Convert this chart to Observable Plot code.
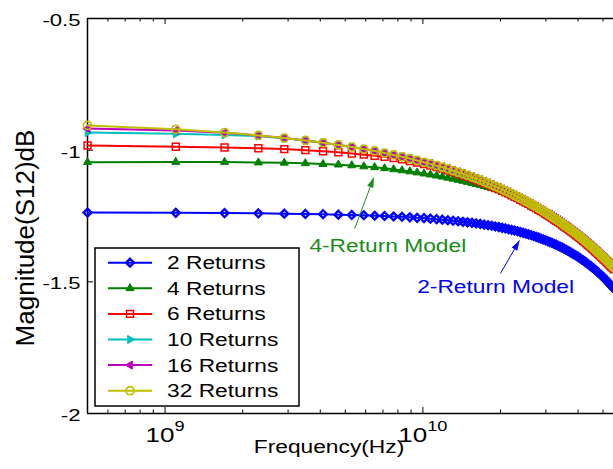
<!DOCTYPE html>
<html><head><meta charset="utf-8">
<script src="https://cdn.jsdelivr.net/npm/d3@7"></script>
<script src="https://cdn.jsdelivr.net/npm/@observablehq/plot@0.6"></script>
<style>
html,body{margin:0;padding:0;background:#fff;overflow:hidden;}
#wrap{position:relative;width:613px;height:469px;overflow:hidden;background:#fff;}
</style></head><body><div id="wrap"></div>
<script>
// ---------------- data ----------------
const seriesNames = ["2 Returns","4 Returns","6 Returns","10 Returns","16 Returns","32 Returns"];
const freqGHz = [
0.5,1.1,1.7,2.3,2.9,3.5,4.1,4.7,5.3,5.9,
6.5,7.1,7.7,8.3,8.9,9.5,10.1,10.7,11.3,11.9,
12.5,13.1,13.7,14.3,14.9,15.5,16.1,16.7,17.3,17.9,
18.5,19.1,19.7,20.3,20.9,21.5,22.1,22.7,23.3,23.9,
24.5,25.1,25.7,26.3,26.9,27.5,28.1,28.7,29.3,29.9,
30.5,31.1,31.7,32.3,32.9,33.5,34.1,34.7,35.3,35.9,
36.5,37.1,37.7,38.3,38.9,39.5,40.1,40.7,41.3,41.9,
42.5,43.1,43.7,44.3,44.9,45.5,46.1,46.7,47.3,47.9,
48.5,49.1,49.7,50.3,50.9,51.5,52.1,52.7,53.3,53.9,
54.5,55.1];
const ret2 = [
-1.237,-1.238,-1.239,-1.240,-1.241,-1.242,-1.243,-1.245,-1.246,-1.247,
-1.249,-1.250,-1.252,-1.253,-1.255,-1.257,-1.258,-1.260,-1.262,-1.264,
-1.266,-1.268,-1.270,-1.272,-1.274,-1.276,-1.278,-1.280,-1.283,-1.285,
-1.287,-1.290,-1.292,-1.295,-1.297,-1.300,-1.303,-1.305,-1.308,-1.311,
-1.314,-1.317,-1.320,-1.323,-1.326,-1.329,-1.332,-1.336,-1.339,-1.342,
-1.346,-1.349,-1.352,-1.356,-1.359,-1.363,-1.367,-1.370,-1.374,-1.378,
-1.382,-1.386,-1.390,-1.394,-1.398,-1.402,-1.406,-1.410,-1.415,-1.419,
-1.423,-1.428,-1.432,-1.437,-1.441,-1.446,-1.450,-1.455,-1.460,-1.465,
-1.469,-1.474,-1.479,-1.484,-1.489,-1.494,-1.500,-1.505,-1.510,-1.515,
-1.521,-1.526];
const ret4 = [
-1.046,-1.045,-1.045,-1.047,-1.048,-1.050,-1.053,-1.055,-1.058,-1.062,
-1.065,-1.069,-1.073,-1.077,-1.081,-1.085,-1.089,-1.093,-1.097,-1.101,
-1.105,-1.109,-1.113,-1.117,-1.121,-1.125,-1.129,-1.133,-1.137,-1.141,
-1.145,-1.149,-1.153,-1.157,-1.163,-1.168,-1.174,-1.180,-1.185,-1.191,
-1.196,-1.202,-1.207,-1.213,-1.218,-1.223,-1.229,-1.234,-1.239,-1.245,
-1.250,-1.255,-1.261,-1.266,-1.271,-1.276,-1.281,-1.287,-1.292,-1.297,
-1.302,-1.307,-1.312,-1.317,-1.322,-1.327,-1.332,-1.337,-1.342,-1.347,
-1.352,-1.357,-1.362,-1.367,-1.372,-1.377,-1.382,-1.387,-1.392,-1.397,
-1.402,-1.407,-1.412,-1.417,-1.421,-1.426,-1.431,-1.436,-1.441,-1.446,
-1.450,-1.455];
const ret6 = [
-0.982,-0.987,-0.990,-0.993,-0.996,-1.000,-1.004,-1.008,-1.013,-1.017,
-1.021,-1.025,-1.030,-1.035,-1.041,-1.047,-1.053,-1.058,-1.064,-1.070,
-1.076,-1.083,-1.089,-1.095,-1.101,-1.107,-1.113,-1.119,-1.125,-1.131,
-1.137,-1.143,-1.148,-1.154,-1.160,-1.165,-1.171,-1.177,-1.182,-1.188,
-1.193,-1.199,-1.204,-1.210,-1.215,-1.220,-1.226,-1.231,-1.236,-1.242,
-1.247,-1.252,-1.258,-1.263,-1.268,-1.273,-1.278,-1.284,-1.289,-1.294,
-1.299,-1.304,-1.309,-1.314,-1.319,-1.324,-1.329,-1.334,-1.339,-1.344,
-1.349,-1.354,-1.359,-1.364,-1.369,-1.374,-1.379,-1.384,-1.389,-1.394,
-1.399,-1.404,-1.409,-1.414,-1.418,-1.423,-1.428,-1.433,-1.438,-1.443,
-1.447,-1.452];
const ret10 = [
-0.933,-0.938,-0.942,-0.947,-0.955,-0.963,-0.972,-0.980,-0.988,-0.996,
-1.003,-1.011,-1.018,-1.025,-1.032,-1.039,-1.046,-1.052,-1.059,-1.065,
-1.071,-1.078,-1.084,-1.090,-1.096,-1.102,-1.108,-1.114,-1.120,-1.126,
-1.132,-1.138,-1.143,-1.149,-1.155,-1.160,-1.166,-1.172,-1.177,-1.183,
-1.188,-1.194,-1.199,-1.205,-1.210,-1.215,-1.221,-1.226,-1.231,-1.237,
-1.242,-1.247,-1.253,-1.258,-1.263,-1.268,-1.273,-1.279,-1.284,-1.289,
-1.294,-1.299,-1.304,-1.309,-1.314,-1.319,-1.324,-1.329,-1.334,-1.339,
-1.344,-1.349,-1.354,-1.359,-1.364,-1.369,-1.374,-1.379,-1.384,-1.389,
-1.394,-1.399,-1.404,-1.409,-1.413,-1.418,-1.423,-1.428,-1.433,-1.438,
-1.442,-1.447];
const ret16 = [
-0.918,-0.925,-0.934,-0.944,-0.954,-0.963,-0.972,-0.980,-0.988,-0.996,
-1.003,-1.011,-1.018,-1.025,-1.032,-1.039,-1.046,-1.050,-1.057,-1.063,
-1.069,-1.076,-1.082,-1.088,-1.094,-1.100,-1.106,-1.112,-1.118,-1.124,
-1.130,-1.136,-1.141,-1.147,-1.153,-1.158,-1.164,-1.170,-1.175,-1.181,
-1.186,-1.192,-1.197,-1.203,-1.208,-1.213,-1.219,-1.224,-1.229,-1.235,
-1.240,-1.243,-1.249,-1.254,-1.259,-1.264,-1.269,-1.275,-1.280,-1.285,
-1.290,-1.295,-1.300,-1.305,-1.310,-1.315,-1.320,-1.325,-1.330,-1.335,
-1.340,-1.345,-1.350,-1.355,-1.360,-1.365,-1.370,-1.375,-1.380,-1.385,
-1.390,-1.395,-1.400,-1.405,-1.409,-1.414,-1.419,-1.424,-1.429,-1.434,
-1.438,-1.443];
const ret32 = [
-0.906,-0.921,-0.933,-0.944,-0.954,-0.963,-0.972,-0.980,-0.988,-0.996,
-1.003,-1.011,-1.018,-1.025,-1.032,-1.039,-1.046,-1.052,-1.059,-1.065,
-1.071,-1.078,-1.084,-1.090,-1.096,-1.102,-1.108,-1.114,-1.120,-1.126,
-1.132,-1.138,-1.143,-1.149,-1.155,-1.160,-1.166,-1.172,-1.177,-1.183,
-1.188,-1.194,-1.199,-1.205,-1.210,-1.215,-1.221,-1.226,-1.231,-1.237,
-1.242,-1.247,-1.253,-1.258,-1.263,-1.268,-1.273,-1.279,-1.284,-1.289,
-1.294,-1.299,-1.304,-1.309,-1.314,-1.319,-1.324,-1.329,-1.334,-1.339,
-1.344,-1.349,-1.354,-1.359,-1.364,-1.369,-1.374,-1.379,-1.384,-1.389,
-1.394,-1.399,-1.404,-1.409,-1.413,-1.418,-1.423,-1.428,-1.433,-1.438,
-1.442,-1.447];

const xDomain = [5e8, 5.49e10];
const yDomain = [-2, -0.5];
const yTicks = [-2, -1.5, -1, -0.5];
const xMajorTicks = [1e9, 1e10];
const xMinorTicks = [6e8,7e8,8e8,9e8,2e9,3e9,4e9,5e9,6e9,7e9,8e9,9e9,2e10,3e10,4e10,5e10];
const xLabel = "Frequency(Hz)";
const yLabel = "Magnitude(S12)dB";

const annotText = ["4-Return Model", "2-Return Model"];
const annotX = [7.31e9, 1.915e10];
const annotY = [-1.366, -1.520];
const arrowX1 = [5.44e9, 2.0e10];
const arrowY1 = [-1.298, -1.468];
const arrowX2 = [6.45e9, 2.37e10];
const arrowY2 = [-1.104, -1.343];
const annotColors = ["#1a8c1a", "#0000ff"];

// ---------------- layout / styles ----------------
const W = 613, H = 469, mL = 87, mR = 0, mT = 18, mB = 56;
const innerW = W - mL - mR, innerH = H - mT - mB;
const FONT = "'Liberation Sans', Arial, Helvetica, sans-serif";
const STRETCH = 1.3;

const sqrt3 = Math.sqrt(3);
const triRight = {draw(ctx, size){ const y = -Math.sqrt(size/(sqrt3*3)); ctx.moveTo(-2*y,0); ctx.lineTo(y,-sqrt3*y); ctx.lineTo(y,sqrt3*y); ctx.closePath(); }};
const triLeft  = {draw(ctx, size){ const y = -Math.sqrt(size/(sqrt3*3)); ctx.moveTo(2*y,0); ctx.lineTo(-y,-sqrt3*y); ctx.lineTo(-y,sqrt3*y); ctx.closePath(); }};
const headSym  = {draw(ctx){ ctx.moveTo(0,0); ctx.lineTo(-3.3,10); ctx.lineTo(3.3,10); ctx.closePath(); }};

const allValues = [ret2, ret4, ret6, ret10, ret16, ret32];
const styles = [
  {color:"#0000ff", symbol:"diamond2", r:3.5, fill:false, sw:2.4},
  {color:"#008000", symbol:"triangle", r:3.0, fill:true,  sw:1},
  {color:"#ff0000", symbol:"square",   r:3.9, fill:false, sw:1.5},
  {color:"#00bfbf", symbol:triRight,   r:3.0, fill:true,  sw:1},
  {color:"#bf00bf", symbol:triLeft,    r:3.0, fill:true,  sw:1},
  {color:"#bfbf00", symbol:"circle",   r:4.0, fill:false, sw:1.7}
];

const xs = d3.scaleLog().domain(xDomain).range([mL, W - mR]);
const ys = d3.scaleLinear().domain(yDomain).range([H - mB, mT]);

const marks = [];
// frame (left, top, bottom)
marks.push(Plot.ruleY([yDomain[0], yDomain[1]], {stroke:"#000", strokeWidth:1.5}));
marks.push(Plot.ruleX([xDomain[0]], {stroke:"#000", strokeWidth:1.5}));
// inward ticks
marks.push(Plot.tickX(xMajorTicks, {x:d=>d, stroke:"#000", insetTop: innerH - 6}));
marks.push(Plot.tickX(xMajorTicks, {x:d=>d, stroke:"#000", insetBottom: innerH - 6}));
marks.push(Plot.tickX(xMinorTicks, {x:d=>d, stroke:"#000", insetTop: innerH - 3.5}));
marks.push(Plot.tickX(xMinorTicks, {x:d=>d, stroke:"#000", insetBottom: innerH - 3.5}));
marks.push(Plot.tickY(yTicks, {y:d=>d, stroke:"#000", insetRight: innerW - 6}));

// series
allValues.forEach((vals, s) => {
  const st = styles[s];
  const data = freqGHz.map((f, i) => ({x: f * 1e9, y: vals[i]}));
  marks.push(Plot.line(data, {x:"x", y:"y", stroke: st.color, strokeWidth: 2}));
  marks.push(Plot.dot(data, {x:"x", y:"y", symbol: st.symbol, r: st.r, stroke: st.color,
    fill: st.fill ? st.color : "none", strokeWidth: st.sw}));
});

// annotations
annotText.forEach((t, i) => {
  const px1 = xs(arrowX1[i]), py1 = ys(arrowY1[i]), px2 = xs(arrowX2[i]), py2 = ys(arrowY2[i]);
  const angle = Math.atan2(px2 - px1, -(py2 - py1)) * 180 / Math.PI;
  const arrow = [{x1: arrowX1[i], y1: arrowY1[i], x2: arrowX2[i], y2: arrowY2[i], a: angle}];
  marks.push(Plot.link(arrow, {x1:"x1", y1:"y1", x2:"x2", y2:"y2", stroke: annotColors[i], strokeWidth: 1}));
  marks.push(Plot.dot(arrow, {x:"x2", y:"y2", symbol: headSym, rotate:"a", fill: annotColors[i], stroke:"none", r: 5}));
  marks.push(Plot.text([{t, x: annotX[i], y: annotY[i]}], {x:"x", y:"y", text:"t", fill: annotColors[i],
    fontSize: 17.5, textAnchor:"middle", lineAnchor:"middle"}));
});

// axes (labels only; ticks drawn above)
marks.push(Plot.axisX(xMajorTicks, {anchor:"bottom", tickSize:0, tickPadding:14, fontSize:20,
  tickFormat: d => "10^" + Math.round(Math.log10(d)), label: null}));
marks.push(Plot.axisY(yTicks, {anchor:"left", tickSize:0, tickPadding:7, fontSize:17, dy: 2,
  tickFormat: d => String(d), label: null}));
marks.push(Plot.text([xLabel], {frameAnchor:"bottom", text:d=>d, dx:-21.5, dy:39, textAnchor:"middle", lineAnchor:"bottom", fontSize:17.5, fill:"#000"}));
marks.push(Plot.text([yLabel], {frameAnchor:"left", text:d=>d, rotate:-90, dx:-62, dy:22, textAnchor:"middle", lineAnchor:"middle", fontSize:26, fill:"#000"}));

const chart = Plot.plot({
  width: W, height: H,
  marginLeft: mL, marginRight: mR, marginTop: mT, marginBottom: mB,
  x: {type:"log", domain: xDomain},
  y: {domain: yDomain},
  style: {fontFamily: FONT, color:"#000", background:"#fff", overflow:"hidden"},
  marks
});
const wrap = document.getElementById("wrap");
wrap.appendChild(chart);

// superscript exponents on x tick labels
const NS = "http://www.w3.org/2000/svg";
chart.querySelectorAll("text").forEach(t => {
  const m = /^10\^(\d+)$/.exec(t.textContent);
  if (m) {
    t.textContent = "10";
    const ts = document.createElementNS(NS, "tspan");
    ts.setAttribute("dy", "-11");
    ts.setAttribute("font-size", "14px");
    ts.textContent = m[1];
    t.appendChild(ts);
  }
});

// legend
const leg = d3.create("svg").attr("width", 210).attr("height", 164)
  .style("position","absolute").style("left","93px").style("top","246px")
  .attr("font-family", FONT);
leg.append("rect").attr("x",2).attr("y",2).attr("width",204).attr("height",158)
  .attr("fill","#fff").attr("stroke","#000").attr("stroke-width",1.5);
seriesNames.forEach((name, i) => {
  const st = styles[i];
  const cy = 16.7 + 25.6 * i;
  leg.append("line").attr("x1",15).attr("x2",59).attr("y1",cy).attr("y2",cy)
    .attr("stroke", st.color).attr("stroke-width", 2);
  const symType = typeof st.symbol === "string"
    ? ({diamond2: d3.symbolDiamond2, triangle: d3.symbolTriangle, square: d3.symbolSquare, circle: d3.symbolCircle})[st.symbol]
    : st.symbol;
  leg.append("path").attr("d", d3.symbol(symType, Math.PI * st.r * st.r)())
    .attr("transform", `translate(37,${cy})`)
    .attr("fill", st.fill ? st.color : "none").attr("stroke", st.color).attr("stroke-width", st.sw);
  leg.append("text").attr("x", 74).attr("y", cy + 6.5).attr("font-size", 17.5).attr("fill","#000").text(name);
});
wrap.appendChild(leg.node());

// horizontal stretch of the (MATLAB-exported) text
function stretch(root) {
  root.querySelectorAll("text").forEach(t => {
    if (t.textContent === yLabel) return;
    const len = t.getComputedTextLength();
    if (len > 0) {
      t.setAttribute("textLength", (len * STRETCH).toFixed(1));
      t.setAttribute("lengthAdjust", "spacingAndGlyphs");
    }
  });
}
stretch(chart);
stretch(leg.node());
</script></body></html>
